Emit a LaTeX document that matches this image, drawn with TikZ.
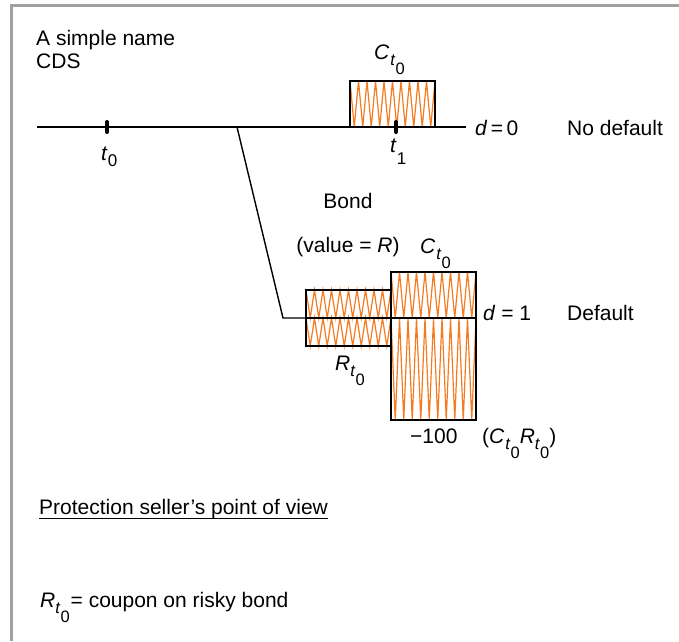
\documentclass[tikz,border=0pt]{standalone}
\usepackage{fontspec}
\setmainfont{Liberation Sans}
\definecolor{zigcol}{HTML}{F47B20}
\definecolor{framecol}{HTML}{A0A0A0}
\newcommand\fs{\fontsize{21}{23}\selectfont}
\newcommand\ssz{\fontsize{16.5}{16.5}\selectfont}
\newcommand\subtz{\raisebox{-6pt}{\ssz\textit{t}\raisebox{-9pt}{0}}}
\newcommand\Ctz{\textit{C}\kern1pt\subtz}
\newcommand\Rtz{\textit{R}\subtz}
\newcommand\zigbox[5]{%
  \draw[zigline] (#1,#2) \foreach \k in {1,...,#5} { -- ({#1+(\k-0.5)*(#3-#1)/#5},#4) -- ({#1+\k*(#3-#1)/#5},#2) };}
\tikzset{
  lbl/.style={inner sep=0pt, anchor=base west, font=\fs},
  clbl/.style={inner sep=0pt, anchor=base, font=\fs},
  zigline/.style={draw=zigcol, line width=1.2pt, line join=miter},
  boxline/.style={draw=black, line width=2.6pt},
  thinl/.style={draw=black, line width=1.4pt},
  tickmark/.style={draw=black, line width=4pt, line cap=round},
  framel/.style={draw=framecol, line width=3pt}
}
\begin{document}
\begin{tikzpicture}[x=1pt,y=-1pt]
\useasboundingbox (0,0) rectangle (679,641);
% frame
\draw[framel] (11.5,641) -- (11.5,5.3) -- (679,5.3);
% coordinates
\coordinate (tlA) at (37,127);
\coordinate (tlB) at (466,127);
\coordinate (br) at (237,127);
\coordinate (elbow) at (283,318);
\coordinate (d1end) at (476,318);
% zigzags
\zigbox{350}{81}{435}{127}{10}
\zigbox{306}{290}{391}{318}{10}
\zigbox{306}{318}{391}{346}{10}
\zigbox{391}{272}{476}{318}{10}
\zigbox{391}{318}{476}{420}{10}
% boxes
\draw[boxline] (350,81) rectangle (435,127);
\draw[boxline] (306,290) rectangle (391,346);
\draw[boxline] (391,272) rectangle (476,420);
% lines
\draw[thinl] (tlA) -- (tlB);
\draw[thinl] (br) -- (elbow) -- (d1end);
\draw[boxline] (306,318) -- (d1end);
% ticks
\coordinate (tk0a) at (107,122); \coordinate (tk0b) at (107,132);
\coordinate (tk1a) at (396,122); \coordinate (tk1b) at (396,132);
\draw[tickmark] (tk0a) -- (tk0b);
\draw[tickmark] (tk1a) -- (tk1b);
% labels
\node[lbl] (title) at (36,45) {A simple name};
\node[lbl] (cds) at (36,68) {CDS};
\node[lbl] (t0) at (101,160) {\textit{t}\raisebox{-6pt}{\fontsize{17}{17}\selectfont 0}};
\node[lbl] (t1) at (390,152) {\textit{t}\raisebox{-12pt}{\fontsize{17}{17}\selectfont 1}};
\node[lbl] (ctop) at (374,59) {\Ctz};
\node[lbl] (d0) at (475,135) {\textit{d}\,=\,0};
\node[lbl] (nodef) at (567,135) {No default};
\node[clbl] (bond) at (348,208) {Bond};
\node[clbl] (value) at (348,252) {(value = \textit{R})};
\node[lbl] (cright) at (420,253) {\Ctz};
\node[lbl] (d1) at (483,320) {\textit{d} = 1};
\node[lbl] (def) at (567,320) {Default};
\node[lbl] (rlab) at (335,370) {\Rtz};
\node[lbl] (m100) at (410,443) {−100};
\node[lbl] (cr) at (482,443) {(\Ctz\Rtz)};
\node[lbl] (prot) at (39,514) {Protection seller’s point of view};
\draw[black, line width=1.3pt] ([yshift=-4.5pt]prot.base west) -- ([yshift=-4.5pt]prot.base east);
\node[lbl] (rdef) at (40,607) {\Rtz\hspace{1pt}= coupon on risky bond};
\end{tikzpicture}
\end{document}
